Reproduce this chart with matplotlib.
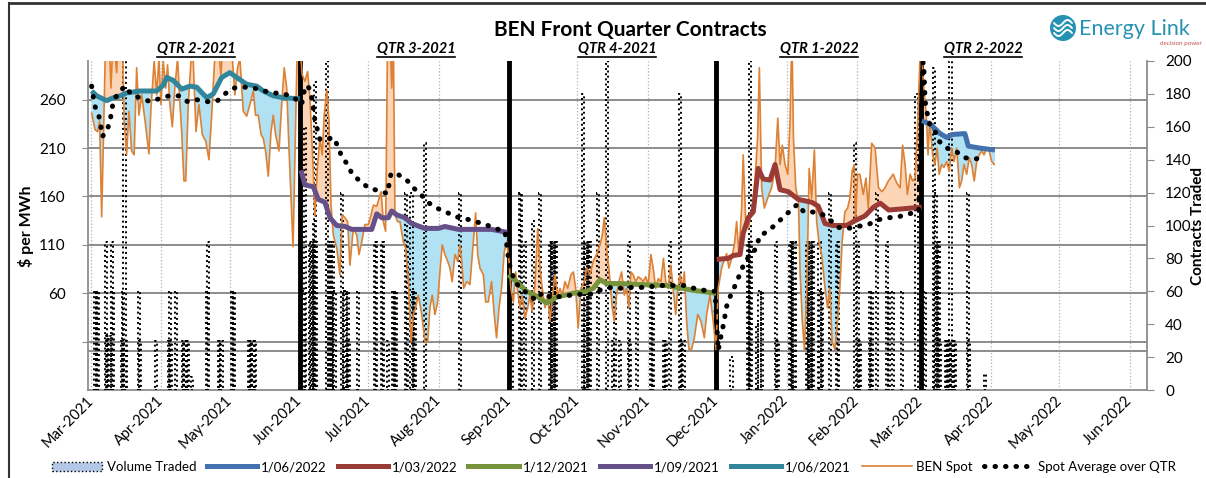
import numpy as np
import matplotlib
matplotlib.use("Agg")
import matplotlib.pyplot as plt
import matplotlib.dates as mdates
import pandas as pd
from matplotlib.patches import Patch, Circle
from matplotlib.lines import Line2D

plt.rcParams['font.family'] = ['Lato', 'DejaVu Sans']

BASE = pd.Timestamp('2021-03-01')
B = mdates.date2num(BASE)

# ---- data (x values are days after 1 Mar 2021) ----
spot_day = [0.3, 1.8, 2.9, 3.8, 4.7, 5.6, 6.5, 7.9, 8.8, 9.8, 11.3, 12.0, 13.8, 14.6, 15.7, 16.7, 17.9, 19.0,
            20.1, 21.1, 22.3, 23.8, 25.5, 26.4, 27.8, 28.9, 29.9, 30.8, 31.8, 32.9, 33.7, 34.7, 35.8, 36.9,
            38.1, 39.1, 39.9, 40.9, 41.7, 42.8, 44.0, 45.0, 46.2, 47.5, 49.0, 50.5, 51.9, 53.1, 54.2, 55.3,
            57.2, 58.2, 60.4, 62.2, 63.3, 64.5, 65.5, 67.0, 68.5, 69.9, 71.4, 72.4, 73.6, 74.8, 75.8, 76.8,
            78.0, 79.2, 80.2, 81.2, 82.7, 83.9, 85.0, 86.1, 87.1, 88.0, 88.9, 89.7, 90.6, 91.5,
            92.9, 94.1, 95.3, 96.3, 97.8, 98.5, 99.7, 100.7, 101.7, 102.6, 103.7, 104.7, 105.6, 106.6, 108.1,
            109.5, 110.5, 111.7, 112.9, 113.9, 115.4, 116.9, 117.9, 119.1, 120.5, 122.0, 123.2, 124.2, 125.7,
            126.7, 127.6, 128.6, 129.6, 130.5, 131.5, 132.3, 133.0, 133.7, 134.9, 135.9, 137.4, 138.4, 139.6,
            140.8, 141.8, 142.8, 144.0, 145.5, 146.9, 148.1, 149.1, 150.1, 151.3, 152.5, 153.5, 154.5, 155.7,
            156.9, 157.9, 158.9, 160.1, 161.3, 162.3, 163.1, 163.9, 165.3, 166.7, 168.2, 169.2, 170.1, 171.1,
            172.6, 173.6, 174.8, 176.2, 177.4, 178.4, 179.5, 180.6, 181.8, 182.9,
            183.9, 184.7, 185.8, 186.8, 187.7, 188.7, 189.7, 190.9, 192.1, 193.1, 194.1, 195.3, 196.5, 197.5,
            198.5, 199.7, 200.9, 201.9, 202.9, 204.1, 205.3, 206.3, 207.3, 208.5, 209.7, 211.1, 212.2, 213.2,
            214.3, 215.5, 217.0, 218.0, 219.5, 220.9, 222.4, 223.9, 224.9, 225.8, 226.8, 227.8, 229.3, 230.2,
            231.2, 232.2, 233.4, 234.6, 235.6, 236.6, 237.5, 238.5, 239.6, 240.7, 241.9, 242.9, 244.0, 245.1,
            246.3, 247.3, 248.4, 249.5, 250.7, 251.8, 252.8, 253.9, 255.0, 256.1, 257.2, 258.1, 259.1, 260.1,
            261.0, 262.0, 263.0, 264.2, 265.4, 266.9, 268.3, 269.8, 270.8, 272.3, 273.7, 274.9,
            275.9, 277.4, 278.6, 279.6, 280.6, 281.8, 283.0, 284.0, 285.0, 286.2, 286.9, 288.0, 289.1, 290.3,
            291.3, 292.4, 293.2, 294.0, 295.0, 296.2, 297.2, 298.2, 299.4, 300.9, 302.1, 303.1, 304.1, 305.3,
            306.5, 307.5, 308.3, 309.0, 310.0, 311.2, 311.9, 312.9, 313.8, 314.9, 315.9, 317.0, 318.2, 319.2,
            320.2, 321.4, 322.9, 324.0, 325.0, 326.0, 327.2, 328.4, 329.4, 330.4, 331.6, 332.8, 333.8, 334.8,
            335.7, 336.3, 337.2, 338.2, 339.7, 340.9, 341.9, 343.4, 344.9, 346.4, 347.9, 349.3, 350.7, 352.9,
            354.4, 355.9, 357.0, 358.1, 359.1, 360.3, 361.4, 362.5, 363.5, 364.6, 365.4,
            365.9, 366.7, 367.4, 368.2, 368.9, 370.2, 371.2, 372.2, 373.1, 374.2, 375.2, 376.4, 377.5, 378.6,
            379.6, 380.8, 382.0, 383.0, 384.0, 385.2, 386.3, 387.4, 388.5, 389.6, 390.7, 391.8, 392.8, 394.0,
            395.1, 396.2, 397.3]
spot_val = [246, 229, 227, 238, 139, 231, 330, 330, 272, 330, 288, 330, 330, 238, 203, 248, 207, 203,
            293, 244, 265, 238, 204, 251, 300, 265, 303, 255, 300, 272, 296, 255, 232, 272,
            303, 258, 227, 176, 176, 255, 300, 300, 227, 255, 224, 217, 198, 244, 293, 330,
            286, 330, 330, 303, 265, 293, 303, 248, 243, 255, 269, 244, 244, 224, 220, 207,
            181, 227, 244, 224, 207, 255, 293, 272, 210, 158, 108, 196, 300, 330,
            286, 279, 289, 262, 186, 140, 193, 220, 203, 244, 270, 238, 151, 120, 107,
            79, 141, 138, 134, 89, 127, 120, 100, 113, 131, 131, 141, 151, 150,
            158, 165, 134, 124, 330, 330, 272, 330, 141, 134, 134, 113, 107, 72,
            10, 38, 45, 58, 38, 10, 10, 45, 58, 38, 51, 82, 110, 100,
            93, 86, 72, 100, 93, 110, 93, 65, 72, 69, 113, 143, 100, 86,
            79, 51, 51, 72, 38, 14, 45, 65, 103, 113,
            93, 65, 51, 82, 62, 45, 58, 34, 45, 58, 41, 69, 127, 86,
            65, 45, 58, 31, 55, 79, 58, 65, 58, 72, 65, 79, 82, 65,
            24, 65, 72, 86, 79, 93, 100, 110, 120, 138, 107, 86, 45, 31,
            58, 72, 82, 58, 65, 45, 82, 79, 72, 77, 75, 72, 77, 69,
            100, 86, 65, 75, 72, 96, 72, 65, 89, 65, 38, 65, 79, 65,
            82, 31, 2, 2, 14, 38, 31, 14, 38, 58, 31, 2,
            65, 86, 95, 101, 86, 96, 110, 134, 100, 148, 203, 134, 127, 141,
            155, 189, 220, 293, 169, 148, 155, 162, 169, 189, 241, 193, 213, 193,
            183, 238, 330, 220, 169, 155, 82, 31, 2, 65, 189, 158, 208, 134,
            113, 100, 65, 45, 65, 10, 2, 31, 65, 113, 144, 148, 158, 186,
            193, 134, 183, 183, 162, 179, 148, 215, 210, 169, 165, 169, 176, 183,
            174, 169, 213, 193, 162, 183, 176, 179, 227, 300, 330,
            286, 262, 244, 203, 238, 203, 193, 210, 183, 193, 190, 196, 186, 210,
            196, 210, 169, 176, 193, 183, 200, 193, 176, 196, 203, 207, 203, 210,
            207, 196, 193]

avg_day = [0.3, 1.0, 1.8, 3.5, 4.4, 5.0, 6.9, 8.4, 9.8, 12.0, 15.0, 17.9, 21.6, 26.0, 29.9, 34.3, 38.7,
           42.5, 46.5, 51.3, 55.7, 58.9, 62.6, 67.4, 71.8, 76.2, 80.6, 85.0, 89.4, 92.7, 93.4, 94.9, 95.9,
           97.1, 97.8, 98.5, 100.7, 103.7, 106.6, 108.8, 110.3, 112.9, 114.9, 118.3, 122.0, 126.4, 130.5,
           131.2, 132.0, 134.9, 138.9, 141.8, 145.2, 148.1, 152.1, 156.1, 160.5, 164.8, 169.2, 173.6, 177.7,
           182.1, 183.9, 185.1, 186.5, 189.0, 192.1, 195.7, 198.7, 202.6, 207.0, 211.4, 215.8, 220.2, 224.6,
           229.0, 233.4, 237.8, 242.5, 247.3, 251.7, 256.1, 261.0, 265.4, 269.8, 274.5, 275.9, 276.7, 277.7,
           278.6, 279.2, 280.4, 282.3, 284.0, 285.9, 287.4, 290.3, 292.8, 294.0, 297.6, 301.2, 304.2, 307.5,
           310.8, 313.6, 317.3, 321.4, 325.0, 328.7, 333.1, 337.2, 341.9, 346.4, 350.7, 355.2, 359.6, 364.0,
           366.0, 366.4, 366.6, 366.8, 367.1, 368.0, 369.0, 371.3, 373.1, 376.4, 380.3, 384.2, 388.6, 393.0]
avg_val = [274, 263, 253, 243, 232, 222, 227, 238, 258, 267, 274, 265, 262, 258, 261, 264, 264,
           258, 260, 258, 259, 266, 272, 273, 272, 269, 267, 266, 262, 255, 266, 275, 272,
           262, 251, 239, 219, 219, 221, 211, 201, 193, 183, 176, 169, 166, 163,
           174, 184, 183, 177, 169, 162, 154, 148, 144, 139, 137, 134, 131, 127,
           124, 91, 82, 71, 66, 59, 53, 61, 55, 57, 58, 59, 59, 64,
           66, 65, 66, 66, 67, 68, 68, 68, 65, 63, 62, 1, 11, 22,
           32, 43, 53, 62, 72, 82, 92, 100, 107, 119, 124, 131, 138, 145,
           152, 144, 144, 142, 136, 128, 127, 129, 131, 136, 138, 139, 142, 144,
           299, 289, 277, 266, 255, 244, 234, 227, 217, 210, 207, 200, 199, 199]

jun21_day = [0.3, 2.5, 6.9, 9.8, 12.8, 15.7, 21.6, 28.9, 31.8, 33.3, 36.2, 39.9, 43.5, 46.5, 50.9,
             53.8, 57.5, 61.1, 64.1, 68.5, 72.9, 75.8, 80.2, 84.6, 91.8]
jun21_val = [269, 264, 259, 262, 264, 267, 269, 269, 275, 283, 280, 271, 274, 273, 262,
             266, 283, 288, 283, 276, 274, 269, 264, 262, 261]
sep21_day = [92.4, 94.1, 97.8, 100.0, 102.9, 105.1, 108.1, 111.7, 114.7, 123.5, 125.7, 127.9, 130.8,
             132.3, 134.5, 138.1, 141.1, 146.9, 152.8, 155.7, 161.6, 170.4, 176.2, 183.0]
sep21_val = [187, 172, 170, 157, 154, 138, 130, 129, 126, 126, 142, 138, 138,
             145, 141, 138, 132, 127, 127, 129, 126, 126, 126, 123]
dec21_day = [183.6, 187.2, 191.6, 196.0, 200.4, 204.8, 212.1, 218.0, 220.9, 223.9, 226.8, 232.7,
             241.5, 253.2, 265.0, 275.0]
dec21_val = [79, 72, 62, 57, 50, 56, 60, 62, 65, 74, 70, 70, 69, 68, 63, 60]
mar22_day = [275.2, 280.3, 282.5, 285.5, 286.9, 289.1, 291.3, 293.5, 295.7, 298.7, 300.9, 303.1,
             306.7, 311.1, 317.0, 319.9, 322.9, 326.4, 332.4, 336.1, 340.5, 344.2, 347.2, 350.9,
             356.0, 365.4]
mar22_val = [95, 96, 99, 100, 122, 138, 144, 189, 178, 177, 193, 167, 165, 157, 154, 150, 132,
             130, 130, 135, 140, 149, 153, 146, 147, 149]
jun22_day = [365.4, 369.1, 371.3, 373.5, 376.4, 378.7, 384.4, 385.9, 391.0, 397.6]
jun22_val = [238, 235, 230, 225, 221, 224, 225, 212, 210, 208]

vol_day = [1.8, 2.5, 3.2, 6.6, 7.1, 7.6, 8.1, 9.2, 9.7, 13.6, 14.1, 14.7, 15.2, 21.1, 21.6, 28.6,
           34.2, 34.7, 35.2, 37.4, 40.6, 41.1, 41.6, 42.1, 42.6, 44.4, 51.0, 51.5, 56.4, 56.9, 57.4,
           61.9, 62.4, 62.9, 69.5, 70.0, 70.5, 71.0, 71.5, 72.0,
           93.5, 94.1, 96.5, 97.0, 97.6, 98.1, 98.6, 99.1, 103.7, 104.6, 105.1, 105.6, 106.1, 106.6,
           107.1, 110.4, 111.5, 112.0, 112.5, 113.0, 113.5, 117.4, 124.9, 125.4, 128.0, 128.5, 130.6,
           132.8, 133.3, 133.8, 134.3, 138.6, 139.1, 141.0, 141.5, 142.0, 142.5, 146.9, 162.3,
           185.0, 188.7, 189.2, 190.9, 194.4, 197.5, 202.0, 202.5, 203.0, 203.5, 204.0, 204.5, 216.4,
           217.5, 218.0, 218.5, 219.0, 219.5, 223.0, 227.0, 229.7, 230.5, 232.7, 236.6, 237.1, 240.1,
           246.3, 246.8, 247.3, 252.0, 252.5, 253.0, 254.7, 259.1, 259.6, 260.1, 260.6,
           281.8, 289.0, 289.5, 289.9, 290.4, 293.0, 294.0, 295.0, 301.3, 301.8, 302.3, 307.5, 308.0,
           308.5, 309.0, 309.5, 315.0, 315.5, 316.0, 316.5, 317.0, 317.5, 320.4, 320.9, 321.4, 325.0,
           328.1, 328.6, 336.1, 337.4, 337.9, 338.4, 342.6, 343.1, 343.6, 345.7, 350.2, 351.1, 352.9,
           356.7, 363.1,
           366.8, 370.8, 371.5, 372.0, 372.5, 373.0, 373.5, 376.0, 376.5, 377.0, 377.5, 378.1, 378.5,
           379.0, 379.5, 380.0, 385.7, 386.2, 393.2]
vol_val = [60, 60, 60, 90, 33, 33, 33, 90, 60, 30, 60, 200, 30, 60, 30, 30,
           30, 60, 30, 60, 30, 30, 30, 30, 30, 8, 60, 90, 30, 30, 30,
           60, 60, 60, 30, 30, 30, 30, 30, 30,
           60, 160, 90, 90, 90, 103, 187, 90, 200, 90, 60, 90, 60, 90,
           60, 120, 60, 60, 30, 60, 30, 60, 90, 90, 90, 90, 30,
           60, 60, 60, 60, 120, 90, 120, 60, 60, 60, 150, 120,
           60, 120, 120, 90, 103, 120, 90, 90, 90, 90, 90, 90, 180,
           90, 90, 90, 90, 90, 120, 200, 30, 60, 30, 90, 30, 60,
           60, 60, 60, 30, 30, 30, 90, 180, 30, 30, 30,
           20, 90, 90, 200, 90, 40, 60, 60, 90, 30, 30, 90, 90,
           90, 90, 90, 90, 90, 90, 90, 90, 90, 90, 60, 60, 120,
           90, 90, 150, 90, 30, 30, 60, 30, 60, 120, 90, 60, 60,
           60, 180,
           60, 196, 120, 90, 90, 90, 30, 30, 30, 30, 30, 200, 30,
           30, 30, 30, 120, 30, 10]

quarter_lines = ['2021-06-01', '2021-09-01', '2021-12-01', '2022-03-01']
quarter_labels = ['QTR 2-2021', 'QTR 3-2021', 'QTR 4-2021', 'QTR 1-2022', 'QTR 2-2022']
quarter_label_x = [196, 416, 617, 819, 983]   # pixel centres

C_TEAL, C_PURP, C_GREEN, C_RED, C_BLUE = '#31869b', '#65508a', '#77933c', '#9b3b36', '#4271ae'
C_SPOT, C_BELOW, C_ABOVE = '#dd8135', '#b0e2f4', '#fbd5b5'
GRID = '#8c8c8c'
LOGO = '#2592b4'

W, H = 1206, 478
fig = plt.figure(figsize=(W / 100, H / 100), dpi=100)
pos = [88 / W, 88 / H, (1147 - 88) / W, 329 / H]
ax = fig.add_axes(pos)
axv = ax.twinx()
axl = fig.add_axes(pos, sharex=ax, sharey=ax)
axl.axis('off')

x = lambda d: B + np.asarray(d, dtype=float)

# shaded gap between forward price and spot
for fd, fv in [(jun21_day, jun21_val), (sep21_day, sep21_val), (dec21_day, dec21_val),
               (mar22_day, mar22_val), (jun22_day, jun22_val)]:
    xs = np.linspace(fd[0], fd[-1], 3000)
    f = np.interp(xs, fd, fv)
    s = np.interp(xs, spot_day, spot_val)
    ax.fill_between(x(xs), f, s, where=s <= f, interpolate=True, color=C_BELOW, lw=0, zorder=1)
    ax.fill_between(x(xs), f, s, where=s >= f, interpolate=True, color=C_ABOVE, lw=0, zorder=1)

# volume bars (right axis)
axv.bar(x(vol_day), vol_val, width=1.0, facecolor='none', edgecolor='black',
        linestyle=':', linewidth=1.4, zorder=2)
axv.set_ylim(0, 200)
axv.set_yticks(range(0, 201, 20))

# quarter separators
for q in quarter_lines:
    axl.axvline(mdates.date2num(pd.Timestamp(q)), color='black', lw=3.5, zorder=1)

axl.plot(x(spot_day), spot_val, color=C_SPOT, lw=1.2, zorder=3)
for fd, fv, c in [(jun21_day, jun21_val, C_TEAL), (sep21_day, sep21_val, C_PURP),
                  (dec21_day, dec21_val, C_GREEN), (mar22_day, mar22_val, C_RED),
                  (jun22_day, jun22_val, C_BLUE)]:
    axl.plot(x(fd), fv, color=c, lw=3.6, solid_joinstyle='round', solid_capstyle='butt', zorder=4)
dot_kw = dict(color='black', lw=3.6, linestyle=(0, (0.1, 2.0)), dash_capstyle='round')
axl.plot(x(avg_day), avg_val, zorder=5, **dot_kw)

# axes formatting
ax.set_ylim(-40, 300)
ax.set_xlim(B - 1.3, B + 464.5)
ax.set_yticks([10, 60, 110, 160, 210, 260])
ax.set_yticklabels(['', '60', '110', '160', '210', '260'])
ax.yaxis.grid(True, color=GRID, lw=1.4)
ax.axhline(0, color=GRID, lw=1.4, zorder=0.5)
months = pd.date_range('2021-03-01', '2022-06-01', freq='MS')
ax.set_xticks(mdates.date2num(months))
ax.xaxis.set_major_formatter(mdates.DateFormatter('%b-%Y'))
ax.xaxis.grid(True, color='#b0b0b0', ls=':', lw=0.9)
ax.set_axisbelow(True)
ax.tick_params(axis='x', length=0, pad=6, labelsize=10.5)
ax.tick_params(axis='y', length=4, color=GRID, labelsize=11, pad=12)
axv.tick_params(axis='y', length=5, color=GRID, labelsize=11, pad=8)
for lab in ax.get_xticklabels():
    lab.set_rotation(45)
    lab.set_ha('right')
    lab.set_va('center')
    lab.set_rotation_mode('anchor')
for a in (ax, axv):
    for sp in a.spines.values():
        sp.set_color(GRID)
        sp.set_linewidth(1.3)
    a.spines['top'].set_visible(False)
ax.spines['right'].set_visible(False)
axv.spines['left'].set_visible(False)
axv.spines['bottom'].set_visible(False)

fig.text(26 / W, 1 - 226 / H, '$ per MWh', rotation=90, ha='center', va='center',
         fontsize=11.5, fontweight='bold')
fig.text(1198.5 / W, 1 - 226 / H, 'Contracts Traded', rotation=90, ha='center', va='center',
         fontsize=11, fontweight='bold')
fig.text(630 / W, 1 - 30 / H, 'BEN Front Quarter Contracts', ha='center', va='center',
         fontsize=15, fontweight='bold')
qtexts = []
for lab, px in zip(quarter_labels, quarter_label_x):
    qtexts.append(fig.text(px / W, 1 - 49 / H, lab, ha='center', va='center', fontsize=10.5,
                           fontweight='bold', style='italic'))

# logo: round badge with white waves, name and tag line
cx, cy = 10.63, (H - 28) / 100
fig.add_artist(Circle((cx, cy), 0.13, transform=fig.dpi_scale_trans, facecolor=LOGO, edgecolor='none'))
for dy in (0.05, 0.0, -0.05):
    t = np.linspace(-0.09, 0.09, 30)
    fig.add_artist(Line2D(cx + t, cy + dy + 0.03 * np.sin(t / 0.09 * np.pi), transform=fig.dpi_scale_trans,
                          color='white', lw=1.4, solid_capstyle='round'))
fig.text(1079 / W, 1 - 29 / H, 'Energy Link', ha='left', va='center', fontsize=15.5, color=LOGO)
fig.text(1202 / W, 1 - 43 / H, 'decision power', ha='right', va='center', fontsize=4.5, color='#c0504d')

# outer frame
fig.add_artist(Line2D([9 / W, 9 / W], [0, 1 - 2.5 / H], transform=fig.transFigure, color='#333333', lw=1.5))
fig.add_artist(Line2D([9 / W, 1], [1 - 2.5 / H, 1 - 2.5 / H], transform=fig.transFigure, color='#333333', lw=2))

handles = [Patch(facecolor='#b4c7e7', edgecolor='black', linestyle=':', lw=1),
           Line2D([], [], color=C_BLUE, lw=3.6), Line2D([], [], color=C_RED, lw=3.6),
           Line2D([], [], color=C_GREEN, lw=3.6), Line2D([], [], color=C_PURP, lw=3.6),
           Line2D([], [], color=C_TEAL, lw=3.6), Line2D([], [], color=C_SPOT, lw=1.2),
           Line2D([], [], **dot_kw)]
labels = ['Volume Traded', '1/06/2022', '1/03/2022', '1/12/2021', '1/09/2021', '1/06/2021',
          'BEN Spot', 'Spot Average over QTR']
fig.legend(handles, labels, loc='center', bbox_to_anchor=(614 / W, 1 - 467 / H), ncol=8,
           frameon=False, fontsize=9.5, handlelength=3.8, handletextpad=0.35, columnspacing=0.8,
           borderpad=0.2)

# underline the quarter labels
fig.canvas.draw()
r = fig.canvas.get_renderer()
for t in qtexts:
    bb = t.get_window_extent(r)
    yy = (bb.y0 - 1) / H
    fig.add_artist(Line2D([bb.x0 / W, bb.x1 / W], [yy, yy], transform=fig.transFigure, color='black', lw=1.2))

fig.savefig('out.png', dpi=100)
